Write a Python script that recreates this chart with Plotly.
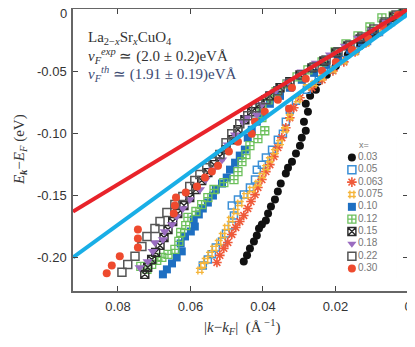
import plotly.graph_objects as go

# doping levels and their data: |k-kF| (1/A) and E_k - E_F (eV)
dopings = ["0.03", "0.05", "0.063", "0.075", "0.10", "0.12", "0.15", "0.18", "0.22", "0.30"]

k_003 = [0.0017, 0.0036, 0.0063, 0.0099, 0.0132, 0.0166, 0.0199, 0.0224, 0.0248, 0.0254, 0.0270,
         0.0282, 0.0276, 0.0287, 0.0282, 0.0293, 0.0298, 0.0309, 0.0320, 0.0331, 0.0337, 0.0351,
         0.0359, 0.0367, 0.0378, 0.0386, 0.0392, 0.0403, 0.0411, 0.0417, 0.0425, 0.0436, 0.0444, 0.0453]
e_003 = [-0.0032, -0.0080, -0.0137, -0.0217, -0.0297, -0.0369, -0.0458, -0.0530, -0.0586, -0.0650,
         -0.0699, -0.0763, -0.0827, -0.0907, -0.0980, -0.1036, -0.1100, -0.1164, -0.1229, -0.1277,
         -0.1325, -0.1405, -0.1469, -0.1534, -0.1590, -0.1646, -0.1702, -0.1734, -0.1767, -0.1823,
         -0.1871, -0.1927, -0.1983, -0.2032]

k_005 = [0.0017, 0.0047, 0.0080, 0.0113, 0.0146, 0.0179, 0.0213, 0.0246, 0.0279, 0.0309, 0.0326,
         0.0337, 0.0345, 0.0359, 0.0375, 0.0392, 0.0403, 0.0417, 0.0422, 0.0436, 0.0453, 0.0469,
         0.0486, 0.0480, 0.0486, 0.0502, 0.0513, 0.0530, 0.0541, 0.0552, 0.0566]
e_005 = [-0.0040, -0.0104, -0.0185, -0.0257, -0.0337, -0.0410, -0.0490, -0.0570, -0.0650, -0.0739,
         -0.0811, -0.0907, -0.1004, -0.1052, -0.1132, -0.1196, -0.1253, -0.1293, -0.1373, -0.1437,
         -0.1494, -0.1534, -0.1582, -0.1662, -0.1743, -0.1807, -0.1871, -0.1919, -0.1975, -0.2016, -0.2064]

k_0063 = [0.0028, 0.0055, 0.0083, 0.0116, 0.0146, 0.0177, 0.0207, 0.0237, 0.0265, 0.0298, 0.0315,
          0.0326, 0.0337, 0.0348, 0.0359, 0.0370, 0.0381, 0.0392, 0.0403, 0.0414, 0.0422, 0.0433,
          0.0442, 0.0453, 0.0464, 0.0475, 0.0486, 0.0497, 0.0508, 0.0519, 0.0527]
e_0063 = [-0.0064, -0.0128, -0.0193, -0.0273, -0.0345, -0.0426, -0.0498, -0.0570, -0.0634, -0.0715,
          -0.0795, -0.0875, -0.0956, -0.1036, -0.1116, -0.1188, -0.1253, -0.1309, -0.1373, -0.1437,
          -0.1494, -0.1550, -0.1606, -0.1662, -0.1710, -0.1759, -0.1815, -0.1879, -0.1927, -0.1983, -0.2040]

k_0075 = [0.0011, 0.0033, 0.0058, 0.0086, 0.0116, 0.0146, 0.0177, 0.0207, 0.0237, 0.0259, 0.0279,
          0.0304, 0.0326, 0.0339, 0.0353, 0.0367, 0.0381, 0.0392, 0.0403, 0.0414, 0.0431, 0.0447,
          0.0464, 0.0475, 0.0489, 0.0500, 0.0511, 0.0522, 0.0535, 0.0546, 0.0558, 0.0566, 0.0574]
e_0075 = [-0.0024, -0.0072, -0.0128, -0.0193, -0.0273, -0.0345, -0.0418, -0.0490, -0.0554, -0.0602,
          -0.0626, -0.0731, -0.0867, -0.0972, -0.1076, -0.1148, -0.1213, -0.1277, -0.1341, -0.1405,
          -0.1453, -0.1502, -0.1566, -0.1630, -0.1694, -0.1759, -0.1823, -0.1879, -0.1927, -0.1975,
          -0.2024, -0.2064, -0.2104]

k_010 = [0.0022, 0.0055, 0.0091, 0.0127, 0.0160, 0.0193, 0.0226, 0.0259, 0.0293, 0.0326, 0.0353,
         0.0381, 0.0403, 0.0417, 0.0431, 0.0442, 0.0450, 0.0464, 0.0477, 0.0491, 0.0500, 0.0513,
         0.0530, 0.0538, 0.0552, 0.0566, 0.0577, 0.0591, 0.0588, 0.0599, 0.0615, 0.0627, 0.0624,
         0.0638, 0.0651, 0.0665, 0.0676]
e_010 = [-0.0048, -0.0120, -0.0193, -0.0265, -0.0329, -0.0385, -0.0450, -0.0514, -0.0570, -0.0634,
         -0.0699, -0.0763, -0.0843, -0.0907, -0.0972, -0.1036, -0.1132, -0.1180, -0.1237, -0.1293,
         -0.1357, -0.1405, -0.1453, -0.1502, -0.1558, -0.1606, -0.1654, -0.1694, -0.1751, -0.1791,
         -0.1831, -0.1887, -0.1951, -0.2000, -0.2048, -0.2096, -0.2136]

k_012 = [0.0014, 0.0041, 0.0072, 0.0105, 0.0138, 0.0171, 0.0201, 0.0237, 0.0276, 0.0306, 0.0334,
         0.0364, 0.0386, 0.0403, 0.0403, 0.0395, 0.0414, 0.0436, 0.0447, 0.0458, 0.0469, 0.0480,
         0.0508, 0.0535, 0.0552, 0.0569, 0.0585, 0.0607, 0.0613, 0.0627, 0.0632, 0.0643, 0.0662,
         0.0679, 0.0693, 0.0707, 0.0720, 0.0737]
e_012 = [-0.0016, -0.0056, -0.0072, -0.0145, -0.0217, -0.0281, -0.0345, -0.0426, -0.0490, -0.0546,
         -0.0602, -0.0666, -0.0731, -0.0811, -0.0875, -0.0980, -0.1044, -0.1100, -0.1172, -0.1229,
         -0.1309, -0.1373, -0.1397, -0.1453, -0.1518, -0.1574, -0.1630, -0.1678, -0.1743, -0.1799,
         -0.1871, -0.1935, -0.1975, -0.2000, -0.2024, -0.2056, -0.2096, -0.2072]

k_015 = [0.0011, 0.0039, 0.0066, 0.0099, 0.0132, 0.0166, 0.0199, 0.0232, 0.0265, 0.0298, 0.0326,
         0.0353, 0.0381, 0.0408, 0.0431, 0.0450, 0.0469, 0.0486, 0.0502, 0.0519, 0.0535, 0.0552,
         0.0569, 0.0585, 0.0602, 0.0618, 0.0635, 0.0649, 0.0662, 0.0673, 0.0684, 0.0696, 0.0707,
         0.0718, 0.0726]
e_015 = [-0.0024, -0.0064, -0.0120, -0.0185, -0.0241, -0.0297, -0.0353, -0.0418, -0.0474, -0.0530,
         -0.0586, -0.0634, -0.0699, -0.0763, -0.0827, -0.0891, -0.0972, -0.1052, -0.1132, -0.1188,
         -0.1253, -0.1317, -0.1381, -0.1453, -0.1518, -0.1582, -0.1646, -0.1710, -0.1775, -0.1839,
         -0.1903, -0.1959, -0.2016, -0.2080, -0.2136]

k_018 = [0.0028, 0.0063, 0.0099, 0.0138, 0.0174, 0.0215, 0.0254, 0.0293, 0.0331, 0.0367, 0.0403,
         0.0417, 0.0444, 0.0455, 0.0477, 0.0497, 0.0513, 0.0538, 0.0558, 0.0574, 0.0602, 0.0621,
         0.0638, 0.0651, 0.0671, 0.0676, 0.0698, 0.0704, 0.0718, 0.0740]
e_018 = [-0.0040, -0.0104, -0.0169, -0.0233, -0.0297, -0.0369, -0.0434, -0.0506, -0.0586, -0.0666,
         -0.0771, -0.0851, -0.0875, -0.0907, -0.1012, -0.1092, -0.1213, -0.1293, -0.1373, -0.1453,
         -0.1534, -0.1606, -0.1670, -0.1734, -0.1791, -0.1855, -0.1879, -0.1951, -0.2032, -0.2080]

k_022 = [0.0006, 0.0033, 0.0063, 0.0094, 0.0127, 0.0160, 0.0193, 0.0226, 0.0259, 0.0293, 0.0326,
         0.0359, 0.0392, 0.0420, 0.0442, 0.0464, 0.0486, 0.0502, 0.0519, 0.0538, 0.0555, 0.0574,
         0.0588, 0.0602, 0.0621, 0.0643, 0.0665, 0.0684, 0.0698, 0.0720, 0.0734, 0.0753, 0.0773, 0.0789]
e_022 = [-0.0008, -0.0048, -0.0104, -0.0161, -0.0225, -0.0289, -0.0345, -0.0410, -0.0466, -0.0530,
         -0.0594, -0.0658, -0.0731, -0.0795, -0.0859, -0.0923, -0.1004, -0.1076, -0.1172, -0.1229,
         -0.1277, -0.1333, -0.1381, -0.1429, -0.1510, -0.1574, -0.1638, -0.1710, -0.1767, -0.1831,
         -0.1911, -0.1991, -0.2056, -0.2120]

k_030 = [0.0028, 0.0069, 0.0110, 0.0155, 0.0199, 0.0237, 0.0282, 0.0320, 0.0328, 0.0359, 0.0395,
         0.0422, 0.0431, 0.0469, 0.0494, 0.0524, 0.0541, 0.0560, 0.0582, 0.0613, 0.0640, 0.0643,
         0.0646, 0.0745, 0.0745, 0.0745, 0.0795, 0.0817, 0.0831]
e_030 = [-0.0048, -0.0137, -0.0233, -0.0329, -0.0426, -0.0498, -0.0562, -0.0634, -0.0803, -0.0731,
         -0.0827, -0.0907, -0.1004, -0.1068, -0.1148, -0.1261, -0.1309, -0.1357, -0.1429, -0.1478,
         -0.1518, -0.1582, -0.1646, -0.1775, -0.1847, -0.1919, -0.1991, -0.2064, -0.2128]

k_data = [k_003, k_005, k_0063, k_0075, k_010, k_012, k_015, k_018, k_022, k_030]
e_data = [e_003, e_005, e_0063, e_0075, e_010, e_012, e_015, e_018, e_022, e_030]

# fits
line_k = [0.0924, 0.0]
line_exp = [-0.163, 0.0]
line_th = [-0.200, -0.004]

yticks = [0, -0.05, -0.10, -0.15, -0.20]
ytext = ["0", "-0.05", "-0.10", "-0.15", "-0.20"]
xticks = [0.08, 0.06, 0.04, 0.02, 0]
xtext = ["0.08", "0.06", "0.04", "0.02", "0"]

styles = [
    dict(symbol="circle", color="#111111", size=8, line=dict(width=0)),
    dict(symbol="square-open", color="#3b8fd6", size=7, line=dict(width=1.5)),
    dict(symbol="asterisk-open", color="#ef5a3a", size=8, line=dict(width=1.6)),
    dict(symbol="hash-open", color="#f5b53a", size=8, line=dict(width=1.4)),
    dict(symbol="square", color="#1e6fc2", size=8, line=dict(width=0)),
    dict(symbol="square-cross-open", color="#6cc05c", size=8, line=dict(width=1.3)),
    dict(symbol="square-x-open", color="#2a2a2a", size=8, line=dict(width=1.4)),
    dict(symbol="triangle-down", color="#9a6cc0", size=9, line=dict(width=0)),
    dict(symbol="square-open", color="#555555", size=8, line=dict(width=1.5)),
    dict(symbol="circle", color="#ee4a2e", size=8, line=dict(width=0)),
]

fig = go.Figure()

for i, d in enumerate(dopings):
    fig.add_trace(go.Scatter(x=k_data[i], y=e_data[i], mode="markers", marker=styles[i],
                             name=d, showlegend=False))

fig.add_trace(go.Scatter(x=line_k, y=line_exp, mode="lines", line=dict(color="#e8232a", width=4),
                         showlegend=False))
fig.add_trace(go.Scatter(x=line_k, y=line_th, mode="lines", line=dict(color="#19aee6", width=4),
                         showlegend=False))

# hand made legend on its own small axes
leg_rows = [0.855 - 0.0875 * i for i in range(len(dopings))]
for i, d in enumerate(dopings):
    m = dict(styles[i])
    m["size"] = 8
    fig.add_trace(go.Scatter(x=[0.18], y=[leg_rows[i]], mode="markers+text", marker=m,
                             text=[d], textposition="middle right",
                             textfont=dict(family="Liberation Sans, Arial", size=10, color="#777777"),
                             xaxis="x2", yaxis="y2", showlegend=False, cliponaxis=False))

fig.add_annotation(x=0.4, y=0.945, xref="x2", yref="y2", xanchor="center", yanchor="middle",
                   text="x=", showarrow=False,
                   font=dict(family="Liberation Sans, Arial", size=9, color="#777777"))

fig.add_shape(type="rect", xref="paper", yref="paper", x0=0.803, x1=0.967, y0=0.046, y1=0.546,
              fillcolor="#dfe4ea", line=dict(width=0), layer="below")

serif = "Liberation Serif, Times New Roman, serif"
fig.add_annotation(x=0.04, y=0.897, xref="paper", yref="paper", xanchor="left", yanchor="middle",
                   showarrow=False,
                   text="La<sub>2−<i>x</i></sub>Sr<sub><i>x</i></sub>CuO<sub>4</sub>",
                   font=dict(family=serif, size=15, color="#333333"))
fig.add_annotation(x=0.04, y=0.833, xref="paper", yref="paper", xanchor="left", yanchor="middle",
                   showarrow=False,
                   text="<i>v</i><sub><i>F</i></sub><sup><i>exp</i></sup> ≃ (2.0 ± 0.2)eVÅ",
                   font=dict(family=serif, size=15, color="#333333"))
fig.add_annotation(x=0.04, y=0.77, xref="paper", yref="paper", xanchor="left", yanchor="middle",
                   showarrow=False,
                   text="<i>v</i><sub><i>F</i></sub><sup><i>th</i></sup> ≃ (1.91 ± 0.19)eVÅ",
                   font=dict(family=serif, size=15, color="#3c4a72"))

# axis titles
fig.add_annotation(x=-0.158, y=0.5, xref="paper", yref="paper", xanchor="center", yanchor="middle",
                   textangle=-90, showarrow=False,
                   text="<i>E</i><sub><b><i>k</i></b></sub>−<i>E</i><sub><i>F</i></sub> (eV)",
                   font=dict(family=serif, size=15, color="#333333"))
fig.add_annotation(x=0.504, y=-0.128, xref="paper", yref="paper", xanchor="center", yanchor="middle",
                   showarrow=False,
                   text="|<i>k</i>−<i>k</i><sub><i>F</i></sub>|  (Å<sup> −1</sup>)",
                   font=dict(family=serif, size=15, color="#333333"))

tickfont = dict(family="Liberation Sans, Arial", size=13, color="#333333")
# top y label sits just under the frame
fig.add_annotation(x=0, y=yticks[0], xref="paper", yref="y", xanchor="right", yanchor="middle",
                   showarrow=False, text=ytext[0], xshift=-4, yshift=-4, font=tickfont)

axis_common = dict(showline=True, linecolor="#666666", linewidth=1.5, mirror="ticks",
                   ticks="inside", ticklen=5, tickcolor="#444444", showgrid=False, zeroline=False,
                   automargin=False, tickfont=tickfont)

fig.update_layout(
    # page body adds 8px on the top and left
    width=407, height=339,
    margin=dict(l=65, r=7, t=1, b=56),
    plot_bgcolor="white", paper_bgcolor="white",
    xaxis=dict(range=[0.0924, 0], tickvals=xticks, ticktext=xtext, ticklabelstandoff=3,
               **axis_common),
    yaxis=dict(range=[-0.227, 0], tickvals=yticks[1:], ticktext=ytext[1:], ticklabelstandoff=2,
               **axis_common),
    xaxis2=dict(domain=[0.803, 0.967], range=[0, 1], visible=False, anchor="y2"),
    yaxis2=dict(domain=[0.046, 0.546], range=[0, 1], visible=False, anchor="x2"),
)

fig.write_html("out.html")
